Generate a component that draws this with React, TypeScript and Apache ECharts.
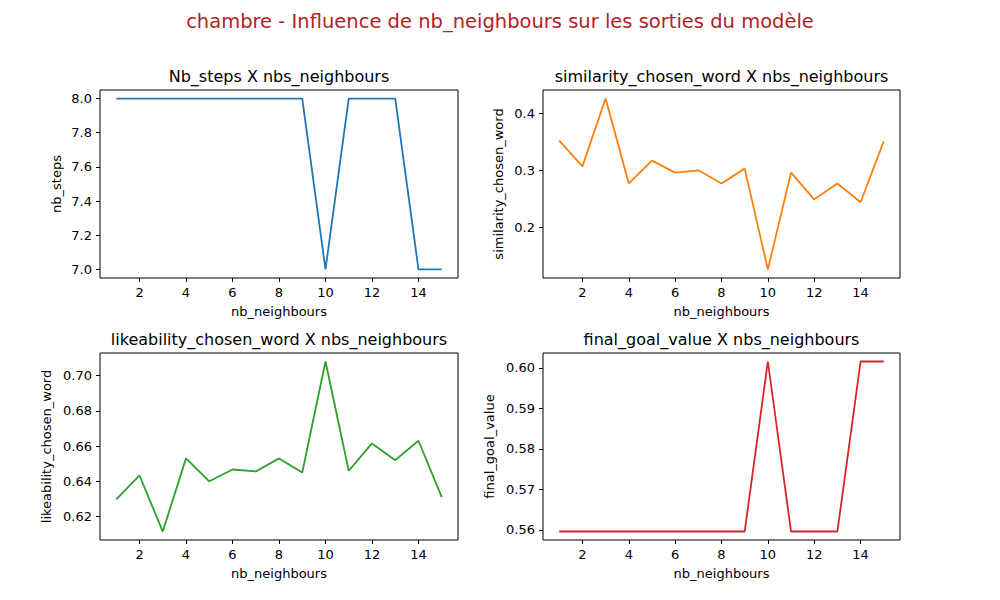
import React, { useEffect, useRef } from "react";
import * as echarts from "echarts";

const neighbours = [1, 2, 3, 4, 5, 6, 7, 8, 9, 10, 11, 12, 13, 14, 15];
const nbSteps = [8, 8, 8, 8, 8, 8, 8, 8, 8, 7, 8, 8, 8, 7, 7];
const similarity = [0.352, 0.307, 0.426, 0.277, 0.317, 0.296, 0.3, 0.277, 0.303, 0.126, 0.296, 0.249, 0.277, 0.244, 0.351];
const likeability = [0.6297, 0.6433, 0.6115, 0.653, 0.64, 0.6467, 0.6456, 0.653, 0.645, 0.708, 0.646, 0.6615, 0.652, 0.663, 0.631];
const finalGoal = [0.5596, 0.5596, 0.5596, 0.5596, 0.5596, 0.5596, 0.5596, 0.5596, 0.5596, 0.6016, 0.5596, 0.5596, 0.5596, 0.6016, 0.6016];
const xTicks = [2, 4, 6, 8, 10, 12, 14];
const yTicks1 = [7.0, 7.2, 7.4, 7.6, 7.8, 8.0];
const yTicks2 = [0.2, 0.3, 0.4];
const yTicks3 = [0.62, 0.64, 0.66, 0.68, 0.7];
const yTicks4 = [0.56, 0.57, 0.58, 0.59, 0.6];

const font = "DejaVu Sans";

export default function App() {
  const ref = useRef<HTMLDivElement>(null);
  useEffect(() => {
    const chart = echarts.init(ref.current!, null, { renderer: "svg" });
    const grids = [
      { left: 100, top: 90, width: 358, height: 188 },
      { left: 543, top: 90, width: 357, height: 188 },
      { left: 100, top: 353, width: 358, height: 187 },
      { left: 543, top: 353, width: 357, height: 187 },
    ];
    const panels = [
      { title: "Nb_steps X nbs_neighbours", yname: "nb_steps", data: nbSteps, color: "#1f77b4", min: 6.95, max: 8.05, ticks: yTicks1, dec: 1, gap: 37 },
      { title: "similarity_chosen_word X nbs_neighbours", yname: "similarity_chosen_word", data: similarity, color: "#ff7f0e", min: 0.111, max: 0.441, ticks: yTicks2, dec: 1, gap: 38 },
      { title: "likeability_chosen_word X nbs_neighbours", yname: "likeability_chosen_word", data: likeability, color: "#2ca02c", min: 0.6067, max: 0.7128, ticks: yTicks3, dec: 2, gap: 47 },
      { title: "final_goal_value X nbs_neighbours", yname: "final_goal_value", data: finalGoal, color: "#d62728", min: 0.5575, max: 0.6037, ticks: yTicks4, dec: 2, gap: 47 },
    ];
    const axisCommon = {
      axisLine: { show: false },
      axisTick: { show: true, inside: false, length: 4, lineStyle: { color: "#000" } },
      axisLabel: { color: "#000", fontFamily: font, fontSize: 13 },
      splitLine: { show: false },
    };
    chart.setOption({
      animation: false,
      textStyle: { fontFamily: font },
      graphic: [
        { type: "text", left: "center", top: 11, style: { text: "chambre - Influence de nb_neighbours sur les sorties du modèle", fill: "#b22222", font: `19.5px "${font}"` } },
        ...panels.map((p, i) => ({
          type: "text",
          x: grids[i].left + grids[i].width / 2,
          y: grids[i].top - 6,
          style: { text: p.title, fill: "#000", font: `16px "${font}"`, textAlign: "center", textVerticalAlign: "bottom" },
        })),
      ],
      grid: grids.map((g) => ({ ...g, show: true, borderColor: "#000", borderWidth: 1, backgroundColor: "transparent" })),
      xAxis: panels.map((p, i) => ({
        type: "value",
        gridIndex: i,
        min: 0.3,
        max: 15.7,
        name: "nb_neighbours",
        nameLocation: "middle",
        nameGap: 27,
        nameTextStyle: { color: "#000", fontSize: 13, fontFamily: font },
        ...axisCommon,
        axisTick: { ...axisCommon.axisTick, customValues: xTicks },
        axisLabel: { ...axisCommon.axisLabel, customValues: xTicks, margin: 8 },
      })),
      yAxis: panels.map((p, i) => ({
        type: "value",
        gridIndex: i,
        min: p.min,
        max: p.max,
        name: p.yname,
        nameLocation: "middle",
        nameGap: p.gap,
        nameTextStyle: { color: "#000", fontSize: 13, fontFamily: font },
        ...axisCommon,
        axisTick: { ...axisCommon.axisTick, customValues: p.ticks },
        axisLabel: { ...axisCommon.axisLabel, customValues: p.ticks, formatter: (v: number) => v.toFixed(p.dec) },
      })),
      series: panels.map((p, i) => ({
        type: "line",
        xAxisIndex: i,
        yAxisIndex: i,
        data: neighbours.map((n, k) => [n, p.data[k]]),
        showSymbol: false,
        lineStyle: { color: p.color, width: 1.8 },
        itemStyle: { color: p.color },
      })),
    });
    return () => chart.dispose();
  }, []);
  return <div ref={ref} style={{ width: 1000, height: 600, position: "absolute", left: 0, top: 0, background: "#fff" }} />;
}
